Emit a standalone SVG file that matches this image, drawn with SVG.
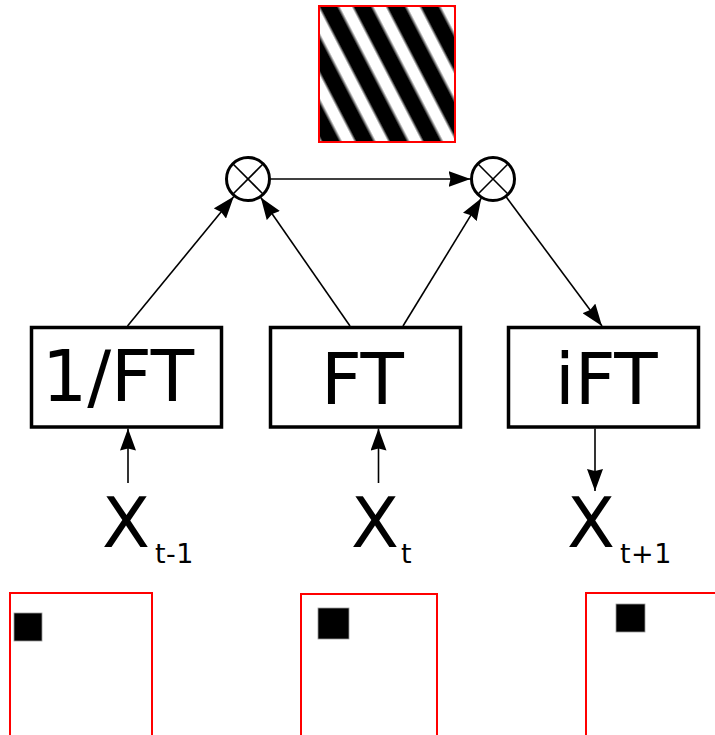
<svg xmlns="http://www.w3.org/2000/svg" width="715" height="735" viewBox="0 0 715 735">
  <style>
    .box { fill: #fff; stroke: #000; stroke-width: 3.5; }
    .mul { fill: #fff; stroke: #000; stroke-width: 3; }
    .cross { stroke: #000; stroke-width: 1.6; }
    .edge { fill: none; stroke: #000; stroke-width: 1.6; marker-end: url(#arrow); }
    .big { font-family: "DejaVu Sans", Verdana, sans-serif; font-size: 71px; fill: #000; }
    .var { font-family: "DejaVu Sans", Verdana, sans-serif; font-size: 70px; fill: #000; }
    .sub { font-family: "DejaVu Sans", Verdana, sans-serif; font-size: 27px; fill: #000; letter-spacing: 0.5px; }
    .frame { fill: #fff; stroke: #ff0000; stroke-width: 2; }
    .blob { fill: #000; stroke: #9a9a9a; stroke-width: 0.8; }
  </style>
  <defs>
    <marker id="arrow" markerUnits="userSpaceOnUse" viewBox="0 0 22 16" refX="22" refY="8" markerWidth="22" markerHeight="16" orient="auto">
      <path d="M0,0 L22,8 L0,16 L2,8 z" fill="#000"/>
    </marker>
    <!-- oblique grating: black/white bands with soft edges -->
    <linearGradient id="grating" gradientUnits="userSpaceOnUse" x1="320" y1="5" x2="346.6" y2="-8.8" spreadMethod="repeat">
      <stop offset="0" stop-color="#000"/>
      <stop offset="0.46" stop-color="#000"/>
      <stop offset="0.58" stop-color="#fff"/>
      <stop offset="0.9" stop-color="#fff"/>
      <stop offset="1" stop-color="#000"/>
    </linearGradient>
  </defs>

  <rect width="715" height="735" fill="#fff"/>

  <!-- filter / grating image -->
  <g id="grating-image">
    <rect x="319" y="6" width="136" height="136" fill="url(#grating)" stroke="#ff0000" stroke-width="2"/>
  </g>

  <!-- connectors -->
  <g id="connectors">
    <line class="edge" x1="127.5" y1="326" x2="233.8" y2="196.5"/>
    <line class="edge" x1="350" y1="326" x2="260.8" y2="197.5"/>
    <line class="edge" x1="403" y1="326" x2="481.3" y2="198.2"/>
    <line class="edge" x1="270.5" y1="179" x2="470.5" y2="179"/>
    <line class="edge" x1="506.3" y1="197.1" x2="602" y2="326"/>
    <line class="edge" x1="128" y1="483" x2="128" y2="428.5"/>
    <line class="edge" x1="378.5" y1="483" x2="378.5" y2="428.5"/>
    <line class="edge" x1="595" y1="428.5" x2="595" y2="491"/>
  </g>

  <!-- multipliers -->
  <g id="mul-left">
    <circle class="mul" cx="248" cy="179" r="21.5"/>
    <line class="cross" x1="232.8" y1="163.8" x2="263.2" y2="194.2"/>
    <line class="cross" x1="263.2" y1="163.8" x2="232.8" y2="194.2"/>
  </g>
  <g id="mul-right">
    <circle class="mul" cx="493" cy="179" r="21.5"/>
    <line class="cross" x1="477.8" y1="163.8" x2="508.2" y2="194.2"/>
    <line class="cross" x1="508.2" y1="163.8" x2="477.8" y2="194.2"/>
  </g>

  <!-- transform blocks -->
  <g id="inverse-ft">
    <rect class="box" x="31.5" y="327.5" width="190" height="99.5"/>
    <text class="big" x="42" y="401">1/FT</text>
  </g>
  <g id="ft">
    <rect class="box" x="270.5" y="327.5" width="190" height="99.5"/>
    <text class="big" x="321" y="404">FT</text>
  </g>
  <g id="ift">
    <rect class="box" x="508.5" y="327.5" width="190" height="99.5"/>
    <text class="big" x="555" y="404">iFT</text>
  </g>

  <!-- frame labels -->
  <g id="x-prev">
    <text class="var" x="102" y="547">X</text>
    <text class="sub" x="155" y="563">t-1</text>
  </g>
  <g id="x-curr">
    <text class="var" x="351" y="547">X</text>
    <text class="sub" x="401" y="563">t</text>
  </g>
  <g id="x-next">
    <text class="var" x="567" y="547">X</text>
    <text class="sub" x="620" y="563">t+1</text>
  </g>

  <!-- frames with moving square -->
  <g id="frame-prev">
    <rect class="frame" x="10" y="593" width="142" height="200"/>
    <rect class="blob" x="14" y="613" width="28" height="28"/>
  </g>
  <g id="frame-curr">
    <rect class="frame" x="301" y="594" width="136" height="200"/>
    <rect class="blob" x="318" y="608" width="31" height="31"/>
  </g>
  <g id="frame-next">
    <rect class="frame" x="586" y="593" width="200" height="200"/>
    <rect class="blob" x="616" y="604" width="29" height="28"/>
  </g>
</svg>
